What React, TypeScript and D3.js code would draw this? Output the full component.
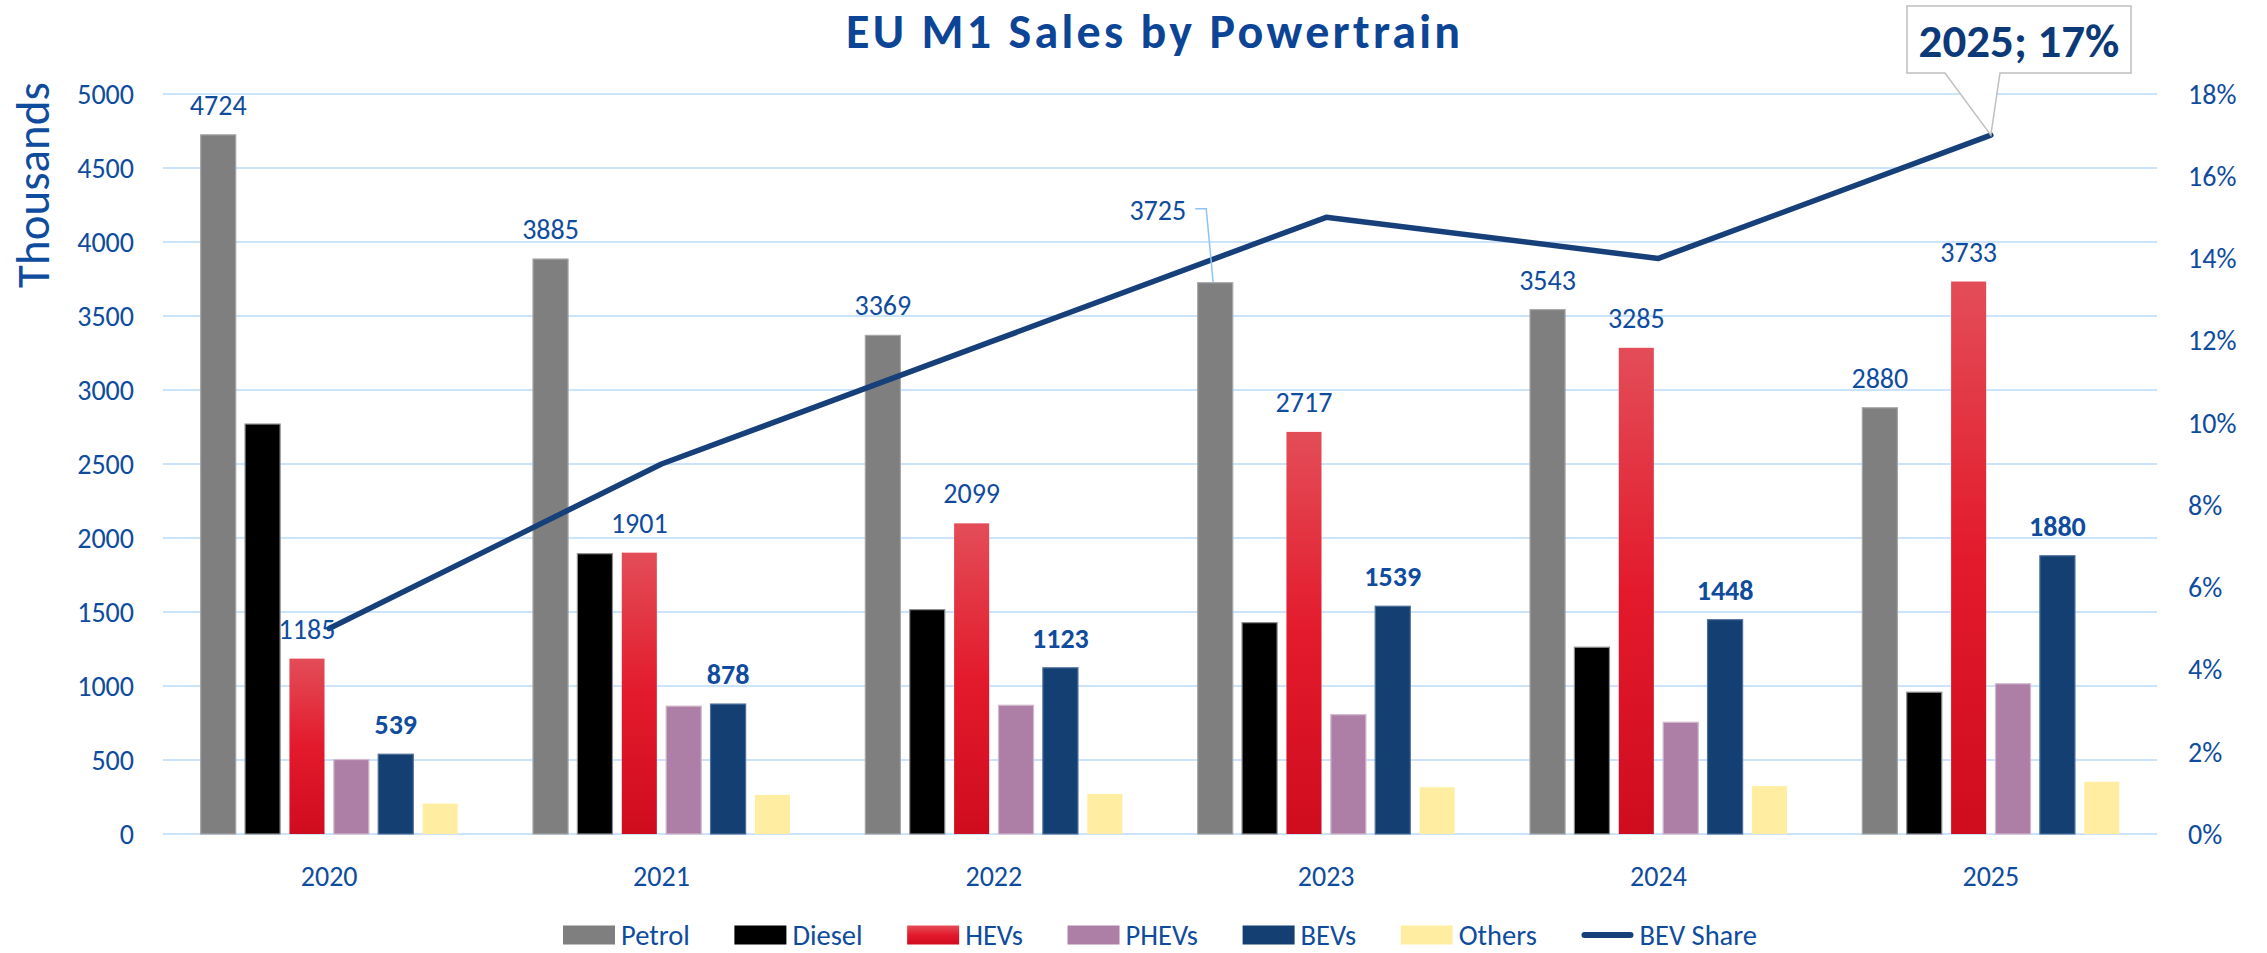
import React, { useLayoutEffect, useRef, useState } from "react";
import * as d3 from "d3";

const years = ["2020", "2021", "2022", "2023", "2024", "2025"];
const seriesNames = ["Petrol", "Diesel", "HEVs", "PHEVs", "BEVs", "Others"];
const petrol = [4724, 3885, 3369, 3725, 3543, 2880];
const diesel = [2770, 1894, 1516, 1428, 1262, 958];
const hevs = [1185, 1901, 2099, 2717, 3285, 3733];
const phevs = [503, 864, 870, 806, 755, 1015];
const bevs = [539, 878, 1123, 1539, 1448, 1880];
const others = [206, 264, 271, 316, 324, 353];
const bevShare = [0.05, 0.09, 0.12, 0.15, 0.14, 0.17];
const leftTicks = [0, 500, 1000, 1500, 2000, 2500, 3000, 3500, 4000, 4500, 5000];
const rightTicks = [0, 0.02, 0.04, 0.06, 0.08, 0.1, 0.12, 0.14, 0.16, 0.18];

const seriesValues = [petrol, diesel, hevs, phevs, bevs, others];
const fills = ["#7f7f7f", "#000000", "url(#hevGrad)", "#ad7fa6", "#133f73", "#ffeea1"];
const strokes = ["#a6a6a6", "#8c8c8c", "none", "#d3b8ce", "#4f6f9a", "none"];
const labelled: Record<string, string> = { Petrol: "normal", HEVs: "normal", BEVs: "bold" };

const W = 2267;
const H = 953;
const FONT = "Carlito, Lato, sans-serif";
const TXT = "#0f4c9e";

export default function App() {
  const plotL = 163, plotR = 2157, plotT = 94, plotB = 834;
  const x = d3.scaleBand<string>().domain(years).range([plotL, plotR]).padding(0);
  const groupW = 257;
  const xs = d3.scaleBand<string>().domain(seriesNames).range([-groupW / 2, groupW / 2]).paddingInner(0.21).paddingOuter(0);
  const y = d3.scaleLinear().domain([0, 5000]).range([plotB, plotT]);
  const y2 = d3.scaleLinear().domain([0, 0.18]).range([plotB, plotT]);
  const cx = (yr: string) => (x(yr) as number) + x.bandwidth() / 2;

  const linePts: [number, number][] = years.map((yr, i) => [cx(yr), y2(bevShare[i])]);
  const linePath = d3.line()(linePts) as string;

  const tickFont = 28;
  const labelFont = 28;

  // legend layout (measured after render)
  const legItems = [...seriesNames, "BEV Share"];
  const legFont = 28.5;
  const swW = 52, swGap = 6;
  const legTotal = 1194;
  const textRefs = useRef<(SVGTextElement | null)[]>([]);
  const [textW, setTextW] = useState<number[]>(legItems.map((t) => t.length * 14));
  useLayoutEffect(() => {
    const ws = textRefs.current.map((el, i) => (el ? el.getComputedTextLength() : textW[i]));
    if (ws.some((w, i) => Math.abs(w - textW[i]) > 0.5)) setTextW(ws);
  });
  const widths = textW.map((tw) => swW + swGap + tw);
  const itemGap = (legTotal - d3.sum(widths)) / (legItems.length - 1);
  let lx = (plotL + plotR) / 2 - legTotal / 2;
  const legPos = widths.map((w) => {
    const p = lx;
    lx += w + itemGap;
    return p;
  });
  const legY = 935;

  const last = linePts[linePts.length - 1];
  const boxL = 1907, boxR = 2131, boxT = 6, boxB = 73;

  return (
    <svg width={W} height={H} style={{ position: "absolute", left: 0, top: 0, background: "#fff" }} fontFamily={FONT}>
      <defs>
        <linearGradient id="hevGrad" x1="0" y1="0" x2="0" y2="1">
          <stop offset="0%" stopColor="#e34d58" />
          <stop offset="50%" stopColor="#e31a2c" />
          <stop offset="100%" stopColor="#cf0c1e" />
        </linearGradient>
      </defs>
      <rect x={0} y={0} width={W} height={H} fill="#fff" />
      <text
        x={1153}
        y={48}
        textAnchor="middle"
        fontSize={48}
        fontWeight="bold"
        fill="#0c4596"
        textLength={614}
        lengthAdjust="spacing"
      >
        EU M1 Sales by Powertrain
      </text>

      {/* gridlines */}
      {leftTicks.map((t) => (
        <line key={t} x1={plotL} x2={plotR} y1={y(t)} y2={y(t)} stroke="#cce3fc" strokeWidth={2} />
      ))}
      {/* left ticks */}
      {leftTicks.map((t) => (
        <text key={"l" + t} x={134} y={y(t)} dy="0.35em" textAnchor="end" fontSize={tickFont} fill={TXT}>
          {t}
        </text>
      ))}
      {/* right ticks */}
      {rightTicks.map((t) => (
        <text key={"r" + t} x={2188} y={y2(t)} dy="0.35em" textAnchor="start" fontSize={tickFont} fill={TXT}>
          {d3.format(".0%")(t)}
        </text>
      ))}
      <text transform={`translate(49,185) rotate(-90)`} textAnchor="middle" fontSize={47} fill={TXT}>
        Thousands
      </text>

      {/* bars */}
      {seriesNames.map((s, si) =>
        years.map((yr, i) => {
          const v = seriesValues[si][i];
          const bx = cx(yr) + (xs(s) as number);
          return (
            <rect
              key={s + yr}
              x={bx}
              y={y(v)}
              width={xs.bandwidth()}
              height={y(0) - y(v)}
              fill={fills[si]}
              stroke={strokes[si]}
              strokeWidth={strokes[si] === "none" ? 0 : 1.2}
            />
          );
        })
      )}

      {/* category labels */}
      {years.map((yr) => (
        <text key={"c" + yr} x={cx(yr)} y={886} textAnchor="middle" fontSize={tickFont} fill={TXT}>
          {yr}
        </text>
      ))}

      {/* BEV share line */}
      <path d={linePath} fill="none" stroke="#17407a" strokeWidth={5.5} strokeLinejoin="round" strokeLinecap="round" />

      {/* data labels */}
      {seriesNames.map((s, si) => {
        if (!labelled[s]) return null;
        return years.map((yr, i) => {
          const v = seriesValues[si][i];
          const bc = cx(yr) + (xs(s) as number) + xs.bandwidth() / 2;
          const top = y(v);
          if (s === "Petrol" && yr === "2023") {
            return (
              <g key={"d" + s + yr}>
                <polyline
                  points={`${bc - 20},${top - 74} ${bc - 9},${top - 74} ${bc - 2},${top}`}
                  fill="none"
                  stroke="#8ec2f5"
                  strokeWidth={1.5}
                />
                <text x={bc - 29} y={top - 63} textAnchor="end" fontSize={labelFont} fill={TXT}>
                  {v}
                </text>
              </g>
            );
          }
          return (
            <text key={"d" + s + yr} x={bc} y={top - 20} textAnchor="middle" fontSize={labelFont} fontWeight={labelled[s]} fill={TXT}>
              {v}
            </text>
          );
        });
      })}

      {/* callout */}
      <path
        d={`M${boxL},${boxT} H${boxR} V${boxB} H${boxL + 93} L${last[0]},${last[1]} L${boxL + 38},${boxB} H${boxL} Z`}
        fill="#fff"
        stroke="#bfbfbf"
        strokeWidth={1.5}
      />
      <text x={(boxL + boxR) / 2} y={57} textAnchor="middle" fontSize={47} fontWeight="bold" fill="#0c3a78">
        {`${years[years.length - 1]}; ${d3.format(".0%")(bevShare[bevShare.length - 1])}`}
      </text>

      {/* legend */}
      {legItems.map((t, i) => {
        const px = legPos[i];
        return (
          <g key={"lg" + t}>
            {i < seriesNames.length ? (
              <rect x={px} y={legY - 9.5} width={swW} height={19} fill={fills[i]} />
            ) : (
              <line x1={px + 3} x2={px + swW - 3} y1={legY} y2={legY} stroke="#17407a" strokeWidth={6} strokeLinecap="round" />
            )}
            <text
              ref={(el) => {
                textRefs.current[i] = el;
              }}
              x={px + swW + swGap}
              y={legY}
              dy="0.35em"
              fontSize={legFont}
              fill={TXT}
            >
              {t}
            </text>
          </g>
        );
      })}
    </svg>
  );
}
